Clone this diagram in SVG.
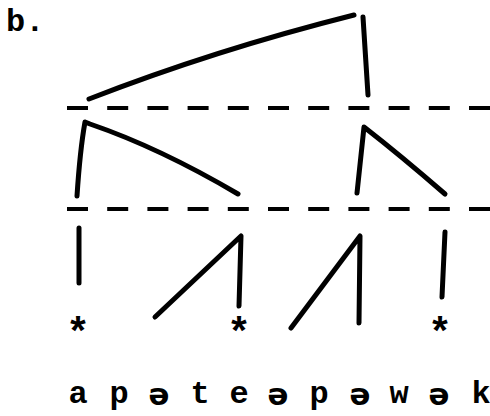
<svg xmlns="http://www.w3.org/2000/svg" width="490" height="416" viewBox="0 0 490 416">
<style>
.ln{fill:none;stroke:#000;stroke-width:5;stroke-linecap:round;stroke-linejoin:round}
.dash{fill:none;stroke:#000;stroke-width:3.8;stroke-dasharray:21 19.2}
.t{font-family:"Liberation Mono","Courier New",monospace;font-size:32px;font-weight:bold;fill:#000;text-anchor:middle}
.star{font-family:"Liberation Mono","Courier New",monospace;font-size:40px;font-weight:bold;fill:#000;text-anchor:middle}
.sch{font-family:"DejaVu Sans","Liberation Sans",sans-serif;font-size:31px;font-weight:bold;fill:#000;text-anchor:middle}
</style>
<rect width="490" height="416" fill="#fff"/>
<text x="6" y="31" font-family="Liberation Mono, monospace" font-size="32" font-weight="bold">b.</text>
<g id="tiers">
<line class="dash" x1="67" y1="108" x2="490" y2="108"/>
<line class="dash" x1="67" y1="209" x2="490" y2="209"/>
</g>
<g id="connectors">
<g id="top-foot">
<path class="ln" d="M89,99 Q215,50 354,15"/>
<path class="ln" d="M363,17 L368,95"/>
</g>
<g id="left-foot">
<path class="ln" d="M77,196 Q80,150 85,122 L90,124 Q160,148 238,194"/>
</g>
<g id="right-foot">
<path class="ln" d="M357,193 L364,127 Q400,155 445,194"/>
</g>
<g id="syll1"><path class="ln" d="M79,228 L79,283"/></g>
<g id="syll2"><path class="ln" d="M155,317 L241,236 L239,306"/></g>
<g id="syll3"><path class="ln" d="M291,328 L360,236 L359,323"/></g>
<g id="syll4"><path class="ln" d="M445,232 L442,297"/></g>
</g>
<g id="stars">
<text class="star" x="78" y="346">*</text>
<text class="star" x="239" y="346">*</text>
<text class="star" x="440" y="346">*</text>
</g>
<g id="segments">
<text class="t" x="78" y="403">a</text>
<text class="t" x="119" y="403">p</text>
<text class="sch" x="159" y="405">ə</text>
<text class="t" x="200" y="403">t</text>
<text class="t" x="239" y="403">e</text>
<text class="sch" x="278" y="405">ə</text>
<text class="t" x="319" y="403">p</text>
<text class="sch" x="360" y="405">ə</text>
<text class="t" x="399" y="403">w</text>
<text class="sch" x="439" y="405">ə</text>
<text class="t" x="481" y="403">k</text>
</g>
</svg>
